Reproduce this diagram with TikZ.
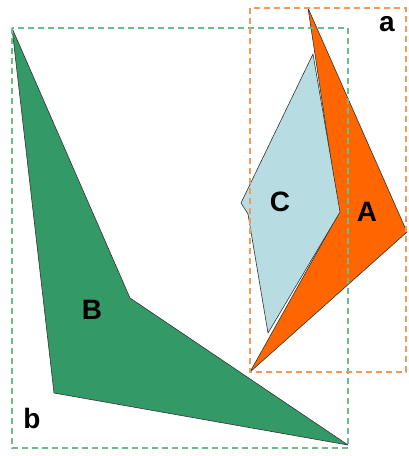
\documentclass[tikz,border=0pt]{standalone}
\usepackage{fontspec}
\setmainfont{Liberation Sans}
\begin{document}
\begin{tikzpicture}[x=1pt,y=-1pt,
  shape line/.style={draw=black!80,line width=0.6pt,line join=round},
  box/.style={dashed,line width=1.3pt,dash pattern=on 6pt off 4pt},
  lbl/.style={font=\fontsize{28}{32}\selectfont\bfseries,inner sep=0pt}]
\definecolor{gfill}{HTML}{339966}
\definecolor{ofill}{HTML}{FF6600}
\definecolor{cfill}{HTML}{B7DDE2}
\definecolor{gbox}{HTML}{6DBB8C}
\definecolor{obox}{HTML}{F39A5A}
\useasboundingbox (0,0) rectangle (408,456);
% shape B
\filldraw[shape line,fill=gfill] (12,28) -- (130,298) -- (348,445) -- (54,393) -- cycle;
% shape A
\filldraw[shape line,fill=ofill] (308,8) -- (407,232) -- (250,372) -- (339,213) -- cycle;
% shape C
\filldraw[shape line,fill=cfill] (313,54) -- (340,212) -- (268,333) -- (248,214) -- (241,203) -- cycle;
% bounding boxes
\draw[box,gbox] (12,28) rectangle (348,448);
\draw[box,obox] (250,8) rectangle (406,372);
% labels
\node[lbl] (la) at (387,24) {a};
\node[lbl] (lb) at (32,418) {b};
\node[lbl] (lA) at (367,212) {A};
\node[lbl] (lB) at (92,310) {B};
\node[lbl] (lC) at (280,202) {C};
\end{tikzpicture}
\end{document}
